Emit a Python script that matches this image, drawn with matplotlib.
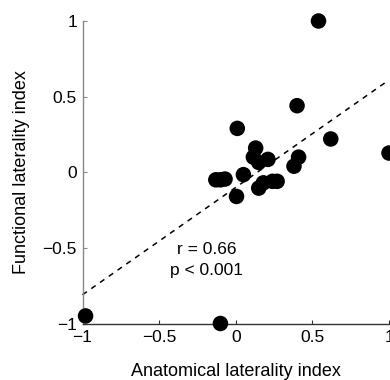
import matplotlib
matplotlib.use("Agg")
import matplotlib.pyplot as plt
import numpy as np

plt.rcParams['font.family'] = ['Liberation Sans', 'DejaVu Sans']

# anatomical vs functional laterality index
anat = [0.54, 0.40, 0.01, 0.62, 1.00, 0.41, 0.38, 0.13, 0.115, 0.15, 0.21,
        0.05, -0.13, -0.10, -0.07, 0.005, 0.15, 0.18, 0.24, 0.27, -0.98, -0.10]
func = [1.00, 0.44, 0.29, 0.22, 0.127, 0.10, 0.04, 0.16, 0.10, 0.065, 0.085,
        -0.016, -0.05, -0.05, -0.045, -0.16, -0.105, -0.07, -0.06, -0.06, -0.95, -1.00]

# regression line
fit_slope = 0.71
fit_icpt = -0.10
stats_text = ["r = 0.66", "p < 0.001"]

fig = plt.figure(figsize=(3.9, 3.8), dpi=100)
ax = fig.add_axes([82.5 / 390, 1 - 323.5 / 380, (389 - 82.5) / 390, (323.5 - 21) / 380])

xs = np.array([-1, 1])
ax.plot(xs, fit_icpt + fit_slope * xs, ls=(0, (3.5, 3.5)), color='k', lw=1.1, clip_on=False)
ax.scatter(anat, func, s=125, color='k', edgecolors='none', clip_on=False, zorder=3)

ax.text(-0.19, -0.51, stats_text[0], ha='center', va='center', fontsize=12.5)
ax.text(-0.19, -0.65, stats_text[1], ha='center', va='center', fontsize=12.5)

ax.set_xlim(-1, 1)
ax.set_ylim(-1, 1)
ax.set_xticks([-1, -0.5, 0, 0.5, 1])
ax.set_yticks([-1, -0.5, 0, 0.5, 1])
ax.set_xticklabels(['\u22121', '\u22120.5', '0', '0.5', '1'])
ax.set_yticklabels(['\u22121', '\u22120.5', '0', '0.5', '1'])
ax.tick_params(direction='in', length=3, width=0.8, labelsize=12.5)
ax.tick_params(axis='x', colors='#333333', labelcolor='k', pad=5)
ax.tick_params(axis='y', colors='#888888', labelcolor='k', pad=4)

ax.spines['top'].set_visible(False)
ax.spines['right'].set_visible(False)
ax.spines['left'].set_color('#888888')
ax.spines['bottom'].set_color('#333333')
ax.spines['left'].set_linewidth(1.0)
ax.spines['bottom'].set_linewidth(1.0)

ax.set_xlabel('Anatomical laterality index', fontsize=13, labelpad=13)
ax.set_ylabel('Functional laterality index', fontsize=13, labelpad=9)

fig.savefig('out.png', dpi=100)
